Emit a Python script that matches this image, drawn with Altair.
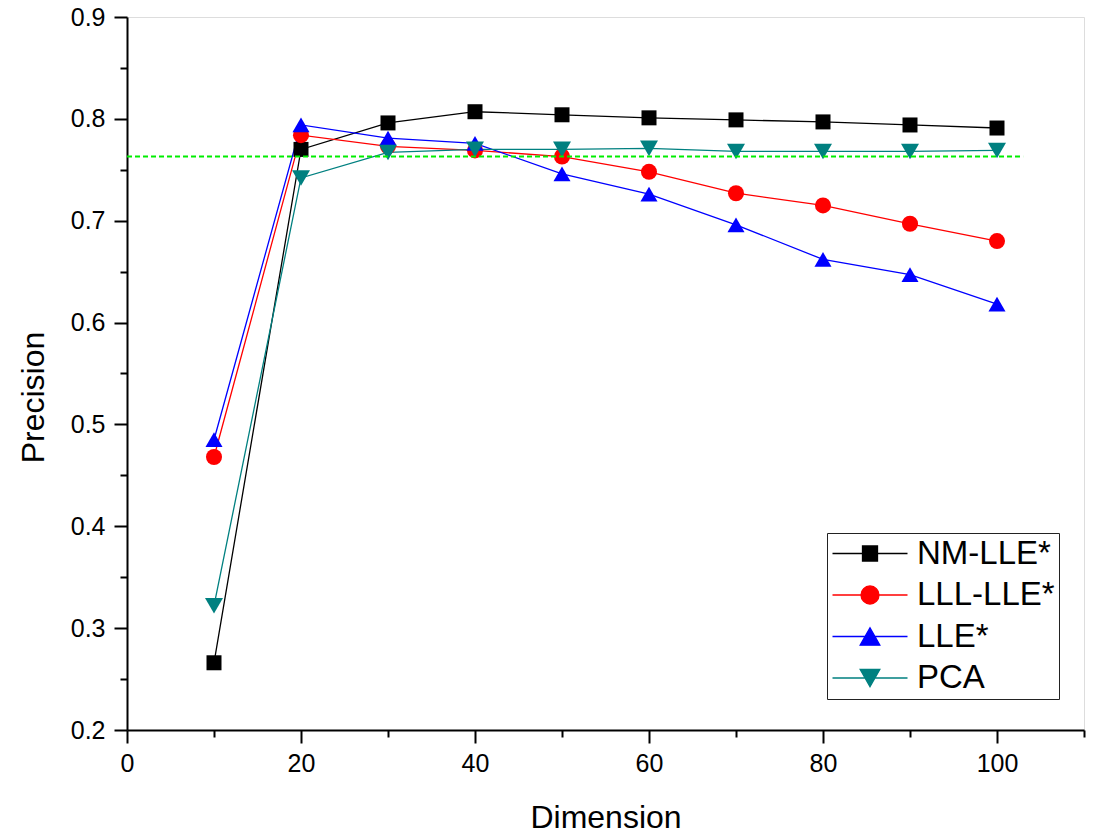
import altair as alt
import pandas as pd

# ---------------- data ----------------
dims = [10, 20, 30, 40, 50, 60, 70, 80, 90, 100]
series_names = ["NM-LLE*", "LLL-LLE*", "LLE*", "PCA"]
nm_lle = [0.266, 0.770, 0.796, 0.807, 0.804, 0.801, 0.799, 0.797, 0.794, 0.791]
lll_lle = [0.468, 0.784, 0.773, 0.769, 0.763, 0.748, 0.727, 0.715, 0.697, 0.680]
lle = [0.485, 0.794, 0.781, 0.776, 0.746, 0.726, 0.696, 0.662, 0.647, 0.618]
pca = [0.322, 0.742, 0.767, 0.770, 0.770, 0.771, 0.768, 0.768, 0.768, 0.769]

baseline_x = [0, 103]
baseline_y = 0.763

x_major = [0, 20, 40, 60, 80, 100]
x_minor = [10, 30, 50, 70, 90, 110]
y_major = [0.2, 0.3, 0.4, 0.5, 0.6, 0.7, 0.8, 0.9]
y_minor = [0.25, 0.35, 0.45, 0.55, 0.65, 0.75, 0.85]

# ---------------- styles ----------------
colors = ["#000000", "#ff0000", "#0000ff", "#008080"]
plot_shapes = ["square", "circle", "triangle-up", "triangle-down"]
plot_sizes = [225, 324, 390, 390]
legend_shapes = [
    "M-2,0H8M2,-1H4V1H2Z",
    "M-2,0H8M1.8,0A1.2,1.2 0 1,0 4.2,0A1.2,1.2 0 1,0 1.8,0Z",
    "M-2,0H8M3,-1.15L4.31,1.15L1.69,1.15Z",
    "M-2,0H8M3,1.15L4.31,-1.15L1.69,-1.15Z",
]
FONT = "Liberation Sans"

rows = []
for name, vals in zip(series_names, [nm_lle, lll_lle, lle, pca]):
    for d, v in zip(dims, vals):
        rows.append({"series": name, "dim": d, "precision": v})
df = pd.DataFrame(rows)
base_df = pd.DataFrame({"dim": baseline_x, "precision": [baseline_y] * len(baseline_x)})

xscale = alt.Scale(domain=[0, 110], nice=False, zero=False)
yscale = alt.Scale(domain=[0.2, 0.9], nice=False, zero=False)

common_axis = dict(
    grid=False, domainColor="black", domainWidth=2, tickColor="black", tickWidth=2,
    labelFont=FONT, labelColor="black", labelFontSize=25, labelFlush=False,
    labelOverlap=False, titleFont=FONT, titleFontSize=32, titleFontWeight="normal",
    titleColor="black",
)

x_axis_major = alt.Axis(values=x_major, orient="bottom", tickSize=13, labelPadding=8,
                        title="Dimension", titleX=478.5, titleY=97,
                        titleBaseline="alphabetic", titleAlign="center", **common_axis)
y_axis_major = alt.Axis(values=y_major, orient="left", tickSize=13, labelPadding=9,
                        format=".1f", title="Precision", titleAngle=270, titleX=-84,
                        titleY=380, titleBaseline="alphabetic", titleAlign="center",
                        **common_axis)
x_axis_minor = alt.Axis(values=x_minor, orient="bottom", tickSize=7, labels=False,
                        domain=False, title=None, grid=False, tickColor="black", tickWidth=2)
y_axis_minor = alt.Axis(values=y_minor, orient="left", tickSize=7, labels=False,
                        domain=False, title=None, grid=False, tickColor="black", tickWidth=2)

color_scale = alt.Scale(domain=series_names, range=colors)

lines = alt.Chart(df).mark_line(strokeWidth=1.3).encode(
    x=alt.X("dim:Q", scale=xscale, axis=x_axis_major),
    y=alt.Y("precision:Q", scale=yscale, axis=y_axis_major),
    color=alt.Color("series:N", scale=color_scale, legend=None),
    order=alt.Order("dim:Q"),
)

points = alt.Chart(df).mark_point(filled=True, opacity=1).encode(
    x=alt.X("dim:Q", scale=xscale, axis=None),
    y=alt.Y("precision:Q", scale=yscale, axis=None),
    color=alt.Color("series:N", scale=color_scale, legend=None),
    shape=alt.Shape("series:N", scale=alt.Scale(domain=series_names, range=plot_shapes), legend=None),
    size=alt.Size("series:N", scale=alt.Scale(domain=series_names, range=plot_sizes), legend=None),
)

leg = alt.Legend(
    title=None, orient="none", legendX=700, legendY=516, padding=4,
    strokeColor="#222222", fillColor="white",
    symbolSize=225, symbolStrokeWidth=1.3, symbolOpacity=1,
    labelFont=FONT, labelFontSize=33, labelColor="black", labelOffset=53,
    rowPadding=7.5, labelLimit=400,
)

legend_layer = alt.Chart(df).transform_filter("false").mark_point(
    filled=True, opacity=1, strokeWidth=1.3
).encode(
    x=alt.X("dim:Q", scale=xscale, axis=None),
    y=alt.Y("precision:Q", scale=yscale, axis=None),
    fill=alt.Fill("series:N", scale=alt.Scale(domain=series_names, range=colors), legend=leg),
    stroke=alt.Stroke("series:N", scale=alt.Scale(domain=series_names, range=colors), legend=leg),
    shape=alt.Shape("series:N", scale=alt.Scale(domain=series_names, range=legend_shapes), legend=leg),
)

baseline = alt.Chart(base_df).mark_line(color="#00ee00", strokeWidth=2, strokeDash=[5, 3]).encode(
    x=alt.X("dim:Q", scale=xscale, axis=x_axis_minor),
    y=alt.Y("precision:Q", scale=yscale, axis=y_axis_minor),
)

chart = alt.layer(lines, points, legend_layer, baseline).resolve_scale(
    shape="independent", fill="independent", stroke="independent"
).resolve_axis(
    x="independent", y="independent"
).properties(
    width=957, height=713,
    padding={"left": 127, "top": 17, "right": 15, "bottom": 105},
    autosize=alt.AutoSizeParams(type="none"),
).configure_view(stroke=None).configure_legend(strokeWidth=1.5).configure(background="white")

chart.save("out.html", embed_options={"renderer": "svg", "actions": False})
